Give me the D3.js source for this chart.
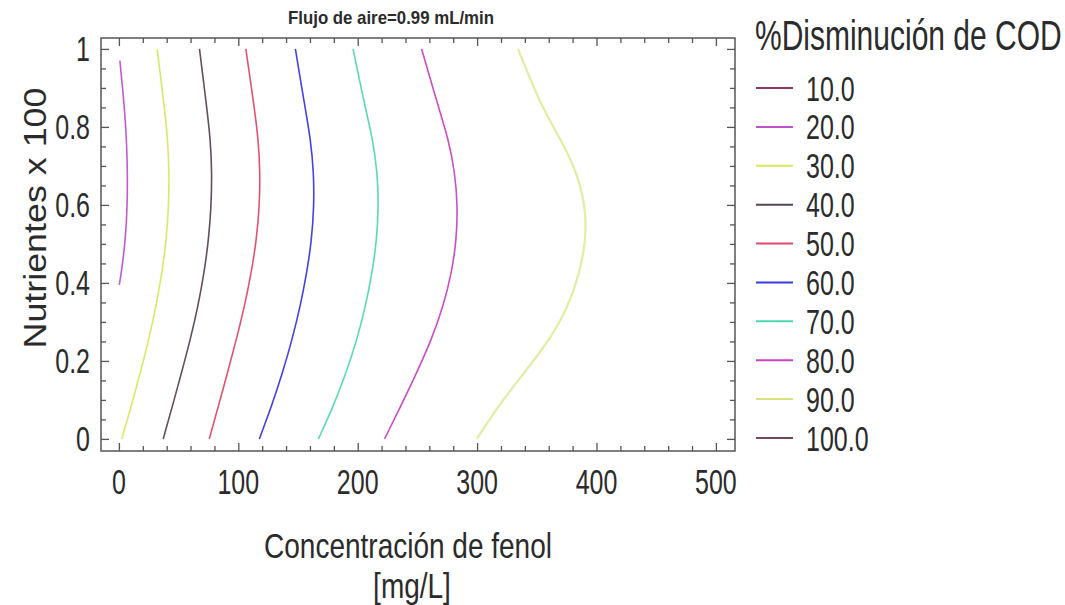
<!DOCTYPE html>
<html>
<head>
<meta charset="utf-8">
<script src="https://cdn.jsdelivr.net/npm/d3@7"></script>
<style>
  html, body { margin: 0; padding: 0; background: #ffffff; }
  svg { display: block; font-family: "Liberation Sans", Arial, sans-serif; }
</style>
</head>
<body>
<svg id="chart" width="1065" height="605"></svg>
<script>
// Contour lines of %COD reduction over phenol concentration and nutrient level
const levels = ["10.0", "20.0", "30.0", "40.0", "50.0", "60.0", "70.0", "80.0", "90.0", "100.0"];
const levelColors = ["#8a3a5c", "#c052cc", "#d6e85e", "#584654", "#e0486c",
                     "#3838e4", "#4fd8b0", "#c844c0", "#d8e27a", "#74485c"];

// Nutrient values (x 100) at which each contour is sampled
const nutrient = [0, 0.083, 0.169, 0.254, 0.339, 0.426, 0.51, 0.596, 0.682, 0.767, 0.852, 1.0];
const nutrient20 = [0.395, 0.426, 0.51, 0.596, 0.682, 0.767, 0.852, 0.97];

// Phenol concentration [mg/L] of each contour at those nutrient values
const phenol20 = [0.3, 2.0, 5.5, 7.0, 7.2, 6.4, 4.6, 0.8];
const phenol30 = [2.3, 10.3, 17.9, 24.9, 31.1, 36.1, 39.7, 41.7, 42.1, 40.9, 38.1, 32.0];
const phenol40 = [37.1, 44.7, 52.4, 59.7, 66.2, 71.4, 75.1, 77.3, 77.9, 76.7, 73.5, 67.5];
const phenol50 = [75.7, 83.2, 90.9, 98.3, 105.1, 110.9, 115.2, 117.7, 118.3, 116.8, 113.3, 106.3];
const phenol60 = [117.6, 127.8, 137.0, 145.0, 151.8, 157.4, 161.4, 163.4, 163.2, 160.6, 155.8, 147.8];
const phenol70 = [167.1, 179.5, 190.3, 199.3, 206.5, 212.1, 215.9, 217.5, 216.5, 212.7, 206.1, 196.1];
const phenol80 = [222.5, 235.9, 249.3, 261.7, 271.6, 278.7, 282.7, 283.7, 281.5, 276.1, 267.5, 253.5];
const phenol90 = [299.8, 317.3, 339.3, 360.8, 376.3, 385.8, 391.3, 390.8, 383.8, 370.3, 353.8, 334.3];

const xTicks = [0, 100, 200, 300, 400, 500];
const xMinorTicks = [20, 40, 60, 80, 120, 140, 160, 180, 220, 240, 260, 280,
                     320, 340, 360, 380, 420, 440, 460, 480];
const yTicks = [0, 0.2, 0.4, 0.6, 0.8, 1];
const yMinorTicks = [0.05, 0.1, 0.15, 0.25, 0.3, 0.35, 0.45, 0.5, 0.55,
                     0.65, 0.7, 0.75, 0.85, 0.9, 0.95];

const titleText = "Flujo de aire=0.99 mL/min";
const xTitle = ["Concentración de fenol", "[mg/L]"];
const yTitle = "Nutrientes x 100";
const legendTitle = "%Disminución de COD";

const contours = [
  { level: "20.0", ys: nutrient20, xs: phenol20 },
  { level: "30.0", ys: nutrient, xs: phenol30 },
  { level: "40.0", ys: nutrient, xs: phenol40 },
  { level: "50.0", ys: nutrient, xs: phenol50 },
  { level: "60.0", ys: nutrient, xs: phenol60 },
  { level: "70.0", ys: nutrient, xs: phenol70 },
  { level: "80.0", ys: nutrient, xs: phenol80 },
  { level: "90.0", ys: nutrient, xs: phenol90 }
];

const frame = { left: 101, right: 735, top: 38, bottom: 451 };
const textColor = "#2b2b2b";
const axisColor = "#555555";
const tall = 1.42;   // glyphs are drawn taller than they are wide

const svg = d3.select("#chart");

const x = d3.scaleLinear().domain([-15, 516]).range([frame.left, frame.right]);
const y = d3.scaleLinear().domain([-0.031, 1.028]).range([frame.bottom, frame.top]);
const color = d3.scaleOrdinal().domain(levels).range(levelColors);

// Text whose glyphs are stretched vertically around their baseline
function tallText(parent, px, py, str, size, anchor, sy) {
  return parent.append("text")
    .attr("transform", `translate(${px},${py}) scale(1,${sy || tall})`)
    .attr("text-anchor", anchor || "start")
    .attr("font-size", size)
    .attr("fill", textColor)
    .text(str);
}

// Title
tallText(svg, 391, 24, titleText, 14, "middle", 1.3)
  .attr("font-weight", "bold")
  .attr("textLength", 206)
  .attr("lengthAdjust", "spacingAndGlyphs");

// Contour lines
const line = d3.line()
  .x(d => x(d[0]))
  .y(d => y(d[1]))
  .curve(d3.curveBasis);

svg.append("g").selectAll("path.contour")
  .data(contours)
  .join("path")
  .attr("class", "contour")
  .attr("fill", "none")
  .attr("stroke", d => color(d.level))
  .attr("stroke-width", d => d.level === "90.0" ? 2.2 : 1.6)
  .attr("stroke-opacity", d => d.level === "90.0" ? 0.7 : 0.95)
  .attr("d", d => line(d.xs.map((v, i) => [v, d.ys[i]])));

// Frame
svg.append("rect")
  .attr("x", frame.left).attr("y", frame.top)
  .attr("width", frame.right - frame.left)
  .attr("height", frame.bottom - frame.top)
  .attr("fill", "none")
  .attr("stroke", axisColor)
  .attr("stroke-width", 1.5);

// Inward ticks on all four sides
function styleAxis(g) {
  g.select(".domain").remove();
  g.selectAll(".tick line").attr("stroke", axisColor).attr("stroke-width", 1.3);
  g.selectAll(".tick text").remove();
}
const axes = [
  [d3.axisBottom(x), xTicks, 8, frame.bottom, true],
  [d3.axisBottom(x), xMinorTicks, 5, frame.bottom, true],
  [d3.axisTop(x), xTicks, 8, frame.top, true],
  [d3.axisTop(x), xMinorTicks, 5, frame.top, true],
  [d3.axisLeft(y), yTicks, 8, frame.left, false],
  [d3.axisLeft(y), yMinorTicks, 5, frame.left, false],
  [d3.axisRight(y), yTicks, 8, frame.right, false],
  [d3.axisRight(y), yMinorTicks, 5, frame.right, false]
];
axes.forEach(([axis, values, size, pos, horizontal]) => {
  svg.append("g")
    .attr("transform", horizontal ? `translate(0,${pos})` : `translate(${pos},0)`)
    .call(axis.tickValues(values).tickSize(-size))
    .call(styleAxis);
});

// Tick labels
const xLabels = svg.append("g");
xTicks.forEach(d => tallText(xLabels, x(d), 494, d3.format("d")(d), 25, "middle"));
const yLabels = svg.append("g");
yTicks.forEach(d => tallText(yLabels, 90, y(d) + 12.5, d3.format("")(d), 25, "end"));

// Axis titles
svg.append("text")
  .attr("transform", "translate(46,218) rotate(-90) scale(1.12,1)")
  .attr("text-anchor", "middle")
  .attr("font-size", 32)
  .attr("fill", textColor)
  .text(yTitle);

const xTitleStretch = 1.25;
tallText(svg, 408, 558, xTitle[0], 28, "middle", xTitleStretch);
tallText(svg, 412, 598, xTitle[1], 28, "middle", xTitleStretch);

// Legend
const legend = svg.append("g");
tallText(legend, 755, 50, legendTitle, 30);

const rowY = d3.scalePoint().domain(levels).range([88, 438]);
const rows = legend.selectAll("g.row")
  .data(levels)
  .join("g")
  .attr("class", "row")
  .attr("transform", d => `translate(0,${rowY(d)})`);
rows.append("line")
  .attr("x1", 756).attr("x2", 793)
  .attr("stroke", d => color(d))
  .attr("stroke-width", 2);
rows.each(function (d) { tallText(d3.select(this), 806, 12.5, d, 25); });
</script>
</body>
</html>
